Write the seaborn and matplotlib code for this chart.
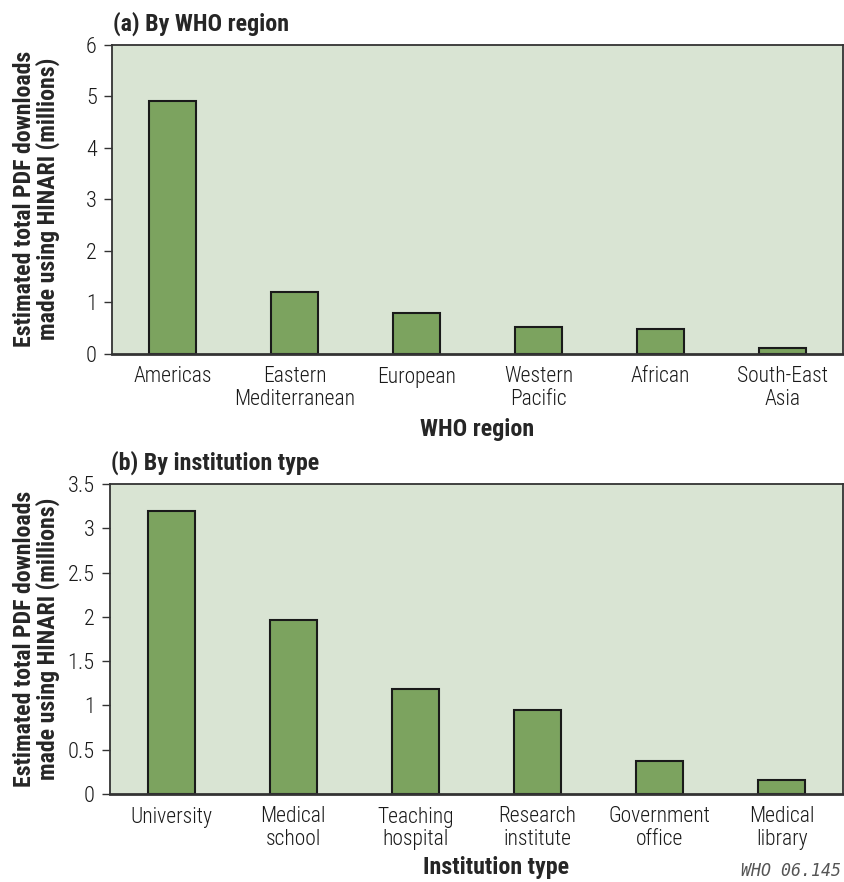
import matplotlib
matplotlib.use("Agg")
import matplotlib.pyplot as plt
import seaborn as sns
import pandas as pd

regions = ["Americas", "Eastern\nMediterranean", "European", "Western\nPacific", "African", "South-East\nAsia"]
region_values = [4.91, 1.21, 0.79, 0.52, 0.48, 0.12]

institutions = ["University", "Medical\nschool", "Teaching\nhospital", "Research\ninstitute", "Government\noffice", "Medical\nlibrary"]
institution_values = [3.19, 1.96, 1.185, 0.945, 0.375, 0.155]

sns.set_theme(style="ticks")
plt.rcParams["font.family"] = ["Roboto Condensed", "Liberation Sans Narrow", "Roboto", "DejaVu Sans"]

BG = "#d9e4d3"
BAR = "#7ca35f"
YLAB = "Estimated total PDF downloads\nmade using HINARI (millions)"
FS = 15.5
FSB = 17.3
FSY = 17.2

fig = plt.figure(figsize=(8.45, 8.82), dpi=100)
ax1 = fig.add_axes([112/845, 1-354/882, (843-112)/845, (354-44.5)/882])
ax2 = fig.add_axes([110/845, 1-794/882, (843-110)/845, (794-484)/882])

df1 = pd.DataFrame({"cat": regions, "val": region_values})
df2 = pd.DataFrame({"cat": institutions, "val": institution_values})

for ax, df, ymax, yticks, ytl, title, xlabel in [
    (ax1, df1, 6, [0, 1, 2, 3, 4, 5, 6], ["0", "1", "2", "3", "4", "5", "6"], "(a) By WHO region", "WHO region"),
    (ax2, df2, 3.5, [0, 0.5, 1, 1.5, 2, 2.5, 3, 3.5], ["0", "0.5", "1", "1.5", "2", "2.5", "3", "3.5"], "(b) By institution type", "Institution type"),
]:
    sns.barplot(data=df, x="cat", y="val", ax=ax, color=BAR, width=0.385,
                edgecolor="#1a1a1a", linewidth=1.5, saturation=1)
    ax.set_facecolor(BG)
    ax.set_xlim(-0.5, 5.5)
    ax.set_ylim(0, ymax)
    ax.set_yticks(yticks)
    ax.set_yticklabels(ytl)
    ax.tick_params(axis="y", length=6, width=1, color="#333333", labelsize=16, pad=5, labelcolor="#1a1a1a")
    ax.tick_params(axis="x", length=0, labelsize=FS, pad=9, labelcolor="#1a1a1a")
    for lab in ax.get_xticklabels() + ax.get_yticklabels():
        lab.set_fontweight("light")
    for lab in ax.get_xticklabels():
        lab.set_linespacing(1.1)
    for s in ax.spines.values():
        s.set_visible(True)
        s.set_color("#333333")
        s.set_linewidth(1.3)
    ax.spines["bottom"].set_linewidth(2)
    ax.set_ylabel(YLAB, fontsize=FSY, fontweight="bold", linespacing=1.0)
    ax.set_title(title, fontsize=FSB, fontweight="bold", loc="left", pad=10, x=0.002)

ax1.set_xlabel("WHO region", fontsize=FSB, fontweight="bold", labelpad=6)
ax2.set_xlabel("Institution type", fontsize=FSB, fontweight="bold", labelpad=4)
ax2.xaxis.label.set_x(0.527)

ax1.yaxis.set_label_coords(-0.071, 0.5)
ax2.yaxis.set_label_coords(-0.068, 0.5)

fig.text(741/845, 0.002, "WHO 06.145", fontsize=12, family="DejaVu Sans Mono", style="italic",
         color="#555555", va="bottom")

fig.savefig("out.png", dpi=100)
